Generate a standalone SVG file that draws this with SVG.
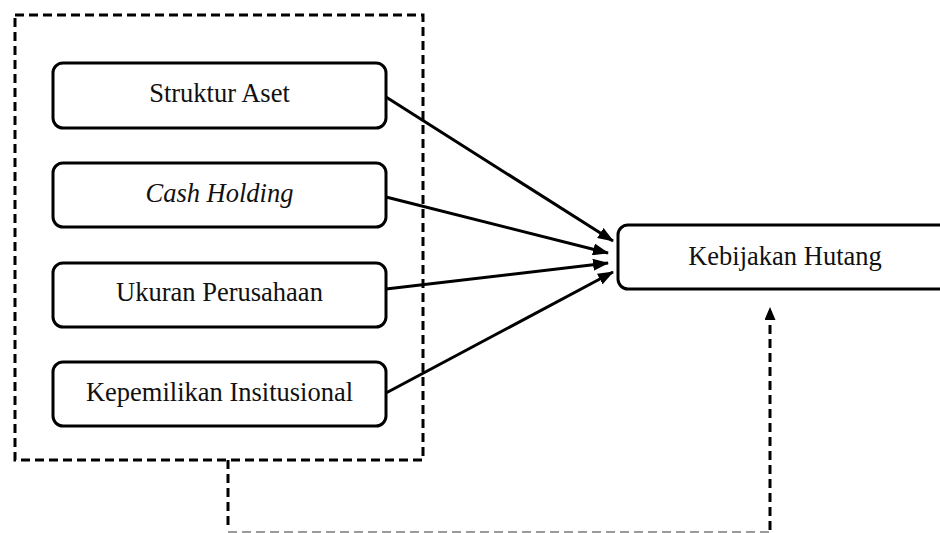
<svg xmlns="http://www.w3.org/2000/svg" width="940" height="533" viewBox="0 0 940 533">
<style>
.bg{fill:#fff}
.box{fill:#fff;stroke:#000;stroke-width:3}
.lbl{font-family:"Liberation Serif","Times New Roman",serif;font-size:26.5px;fill:#111;text-anchor:middle}
.it{font-style:italic}
.dash{fill:none;stroke:#000;stroke-width:3;stroke-dasharray:9 5}
.arr{fill:none;stroke:#000;stroke-width:3;marker-end:url(#ah)}
</style>
<defs>
<marker id="ah" viewBox="0 0 16 12" refX="15" refY="6" markerWidth="16" markerHeight="12" markerUnits="userSpaceOnUse" orient="auto">
<path d="M0,0 L16,6 L0,12 Z" fill="#000"/>
</marker>
<marker id="ah2" viewBox="0 0 13 11" refX="12" refY="5.5" markerWidth="13" markerHeight="11" markerUnits="userSpaceOnUse" orient="auto">
<path d="M0,0 L13,5.5 L0,11 Z" fill="#000"/>
</marker>
</defs>
<rect class="bg" x="0" y="0" width="940" height="533"/>
<g id="group-box">
<rect class="dash" x="15" y="15" width="408" height="445"/>
</g>
<g id="connectors">
<line class="arr" x1="386" y1="97" x2="613" y2="241"/>
<line class="arr" x1="386" y1="197" x2="608" y2="253"/>
<line class="arr" x1="386" y1="289" x2="608" y2="263"/>
<line class="arr" x1="386" y1="393" x2="613" y2="272"/>
<path class="dash" d="M228,460 L228,530"/>
<path d="M228,532 L770,532" fill="none" stroke="#9a9a9a" stroke-width="2" stroke-dasharray="9 5"/>
<path class="dash" d="M770,530 L770,308" marker-end="url(#ah2)"/>
</g>
<g id="struktur-aset">
<rect class="box" x="53" y="63" width="333" height="65" rx="10"/>
<text class="lbl" x="219.5" y="102">Struktur Aset</text>
</g>
<g id="cash-holding">
<rect class="box" x="53" y="163" width="333" height="64" rx="10"/>
<text class="lbl it" x="219.5" y="202">Cash Holding</text>
</g>
<g id="ukuran-perusahaan">
<rect class="box" x="53" y="263" width="333" height="64" rx="10"/>
<text class="lbl" x="219.5" y="301">Ukuran Perusahaan</text>
</g>
<g id="kepemilikan-insitusional">
<rect class="box" x="53" y="362" width="333" height="64" rx="10"/>
<text class="lbl" x="219.5" y="401">Kepemilikan Insitusional</text>
</g>
<g id="kebijakan-hutang">
<rect class="box" x="618" y="225" width="340" height="64" rx="10"/>
<text class="lbl" x="785" y="265">Kebijakan Hutang</text>
</g>
</svg>
